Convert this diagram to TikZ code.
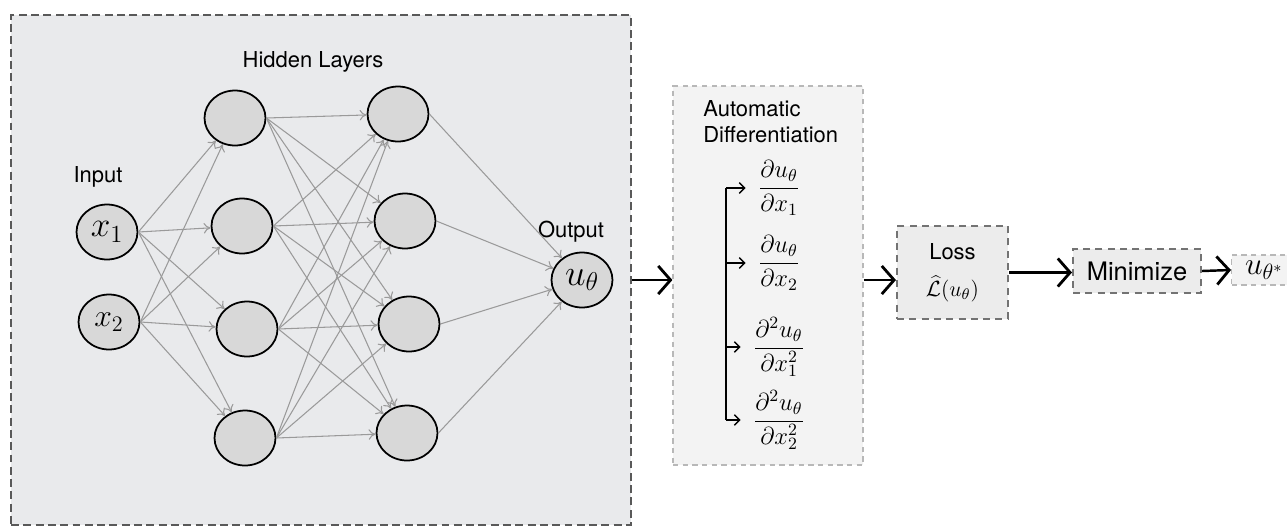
\documentclass[tikz,border=0pt]{standalone}
\usepackage{fix-cm}
\usepackage{fontspec}
\setmainfont{TeX Gyre Heros}
\usetikzlibrary{arrows.meta,shapes.geometric,positioning}

\definecolor{panelgray}{HTML}{E9EAEC}
\definecolor{neurongray}{HTML}{D8D8D8}
\definecolor{linkgray}{HTML}{9A9A9A}
\definecolor{boxgray}{HTML}{ECECEC}
\definecolor{lightbox}{HTML}{F3F3F3}

\tikzset{
    neuron/.style={ellipse, draw=black, line width=1pt, fill=neurongray,
        minimum width=1.22cm, minimum height=1.1cm, inner sep=0pt},
    link/.style={draw=linkgray, line width=0.6pt, -{To[length=4pt,width=6pt]}},
    flow/.style={line width=1.4pt, -{Straight Barb[length=7pt,width=16pt,line width=1.6pt]}},
    branch/.style={line width=0.8pt, -{Straight Barb[length=3pt,width=6pt]}},
    label/.style={font=\fontsize{12.5}{15}\selectfont},
    stagebox/.style={draw=black!55, fill=boxgray, line width=1.2pt,
        dash pattern=on 4pt off 3pt},
    softbox/.style={draw=black!28, fill=lightbox, line width=0.7pt,
        dash pattern=on 3pt off 2.5pt}
}

\begin{document}
\begin{tikzpicture}[x=0.02cm, y=-0.02cm]
    \useasboundingbox (0,0) rectangle (1287,528);

    % Network panel
    \node[draw=black!65, fill=panelgray, line width=1.2pt, dash pattern=on 4.5pt off 2.5pt,
        minimum width=12.4cm, minimum height=10.2cm] (nnpanel) at (321,270) {};

    \node[label] (hiddenlbl) at (313,62) {Hidden Layers};
    \node[label] (inputlbl) at (98,177) {Input};
    \node[label] (outputlbl) at (571,232) {Output};

    % Neurons
    \node[neuron, font=\fontsize{20}{24}\selectfont] (x1) at (107,232) {$x_1$};
    \node[neuron, font=\fontsize{18}{21}\selectfont] (x2) at (109,322) {$x_2$};
    \foreach \j/\px/\py in {1/235/118, 2/242/226, 3/247/329, 4/245/438} {
        \node[neuron] (ha\j) at (\px,\py) {};
    }
    \foreach \j/\px/\py in {1/398/114, 2/405/221, 3/409/324, 4/407/433} {
        \node[neuron] (hb\j) at (\px,\py) {};
    }
    \node[neuron, font=\fontsize{21}{25}\selectfont] (out) at (582,280) {$u_\theta$};

    % Weights
    \foreach \i in {1,2} {
        \foreach \j in {1,...,4} {
            \draw[link] (x\i.east) -- (ha\j);
        }
    }
    \foreach \i in {1,...,4} {
        \foreach \j in {1,...,4} {
            \draw[link] (ha\i.east) -- (hb\j);
        }
    }
    \foreach \i in {1,...,4} {
        \draw[link] (hb\i.east) -- (out);
    }

    % Automatic differentiation
    \node[softbox, minimum width=3.8cm, minimum height=7.58cm] (ad) at (768,275.5) {};
    \node[label, anchor=west, align=left, inner sep=0pt] (adtitle) at (703,121.5)
        {Automatic\\Differentiation};

    \coordinate (bx) at (726,0);
    \foreach \i/\py/\expr in {1/188/{\frac{\partial u_\theta}{\partial x_1}},
                              2/263/{\frac{\partial u_\theta}{\partial x_2}},
                              3/347/{\frac{\partial^2 u_\theta}{\partial x_1^2}},
                              4/420/{\frac{\partial^2 u_\theta}{\partial x_2^2}}} {
        \node[font=\fontsize{14}{16}\selectfont, inner sep=0pt] (d\i) at (779,\py)
            {$\displaystyle\expr$};
        \draw[branch] (bx |- d\i) -- ([xshift=-7pt]d\i.west);
    }
    \draw[line width=0.8pt] (bx |- d1) -- (bx |- d4);

    % Loss, minimize, result
    \node[stagebox, minimum width=2.22cm, minimum height=1.86cm, align=center,
        font=\fontsize{12.5}{15}\selectfont] (loss) at (952.5,272.5)
        {Loss\\[6pt]$\widehat{\mathcal{L}}(u_\theta)$};
    \node[stagebox, minimum width=2.56cm, minimum height=0.88cm,
        font=\fontsize{14.5}{17}\selectfont] (minimize) at (1137,271) {Minimize};
    \node[softbox, anchor=west, minimum width=1.3cm, minimum height=0.6cm,
        font=\fontsize{18}{21}\selectfont, inner sep=1pt] (ustar) at (1231,270) {$u_{\theta^*}$};

    % Flow
    \draw[flow] (out -| nnpanel.east) -- (out -| ad.west);
    \draw[flow] (ad.east |- out) -- (out -| loss.west);
    \draw[flow] (loss.east) -- (loss.east -| minimize.west);
    \draw[flow] (minimize.east) -- (ustar.west);
\end{tikzpicture}
\end{document}
